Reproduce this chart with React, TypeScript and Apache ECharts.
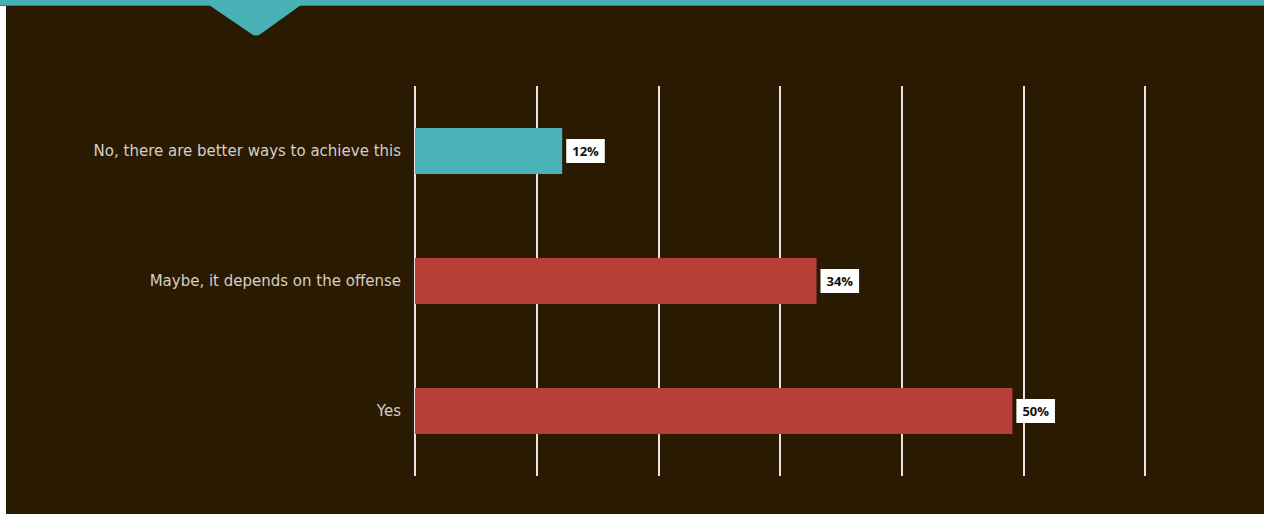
import React, { useEffect, useRef } from "react";
import * as echarts from "echarts";

const categories = [
  "No, there are better ways to achieve this",
  "Maybe, it depends on the offense",
  "Yes",
];
const values = [12.1, 33.0, 49.1];
const valueLabels = ["12%", "34%", "50%"];
const barColors = ["#4ab2b7", "#b83e38", "#b83e38"];
const axisTicks = [0, 10, 20, 30, 40, 50, 60];

export default function App() {
  const ref = useRef<HTMLDivElement>(null);
  useEffect(() => {
    if (!ref.current) return;
    const chart = echarts.init(ref.current, undefined, { renderer: "svg" });
    chart.setOption({
      animation: false,
      backgroundColor: "#ffffff",
      graphic: [
        { type: "rect", shape: { x: 6, y: 0, width: 1258, height: 514 }, style: { fill: "#2b1a02" }, z: -10 },
        { type: "rect", shape: { x: 0, y: 0, width: 1264, height: 6 }, style: { fill: "#3e7f7c" }, z: -5 },
        { type: "rect", shape: { x: 0, y: 0, width: 1264, height: 5 }, style: { fill: "#47b1b5" }, z: -4 },
        {
          type: "polygon",
          shape: { points: [[209, 5], [301, 5], [262, 33], [258, 35.5], [254, 35.5], [250, 33]] },
          style: { fill: "#47b1b5" },
          z: -4,
        },
      ],
      grid: { left: 415, right: 119, top: 86, bottom: 38, containLabel: false },
      xAxis: {
        type: "value",
        min: axisTicks[0],
        max: axisTicks[axisTicks.length - 1],
        interval: 10,
        axisLabel: { show: false },
        axisLine: { show: false },
        axisTick: { show: false },
        splitLine: { show: true, lineStyle: { color: "#e8e4df", width: 2 } },
      },
      yAxis: {
        type: "category",
        inverse: true,
        data: categories,
        axisLine: { show: false },
        axisTick: { show: false },
        axisLabel: {
          margin: 14,
          color: "#d4cec6",
          fontFamily: "DejaVu Sans",
          fontWeight: "normal",
          fontSize: 15,
        },
      },
      series: [
        {
          type: "bar",
          barWidth: 46,
          data: values.map((v, i) => ({ value: v, itemStyle: { color: barColors[i] } })),
          label: {
            show: true,
            position: "right",
            distance: 4,
            formatter: (p: any) => valueLabels[p.dataIndex],
            backgroundColor: "#ffffff",
            color: "#111111",
            fontFamily: "Open Sans",
            fontWeight: "bold",
            fontSize: 13,
            padding: [6, 6, 5, 6],
          },
        },
      ],
    });
    return () => chart.dispose();
  }, []);
  return <div ref={ref} style={{ position: "absolute", left: 0, top: 0, width: 1264, height: 514 }} />;
}
